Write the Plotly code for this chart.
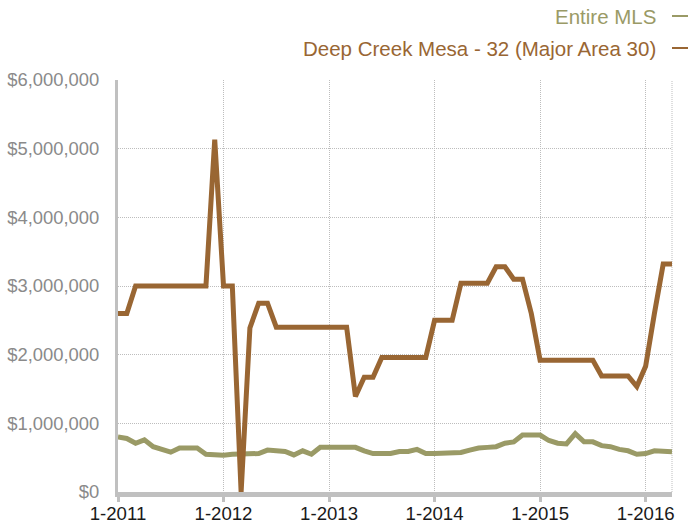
import plotly.graph_objects as go

# Month labels Jan 2011 .. Apr 2016
months = [f"{m}-{y}" for y in range(2011, 2017) for m in range(1, 13)][:64]

deep_creek = [2.60, 2.60, 3.00, 3.00, 3.00, 3.00, 3.00, 3.00, 3.00, 3.00,
              3.00, 5.13, 3.00, 3.00, 0.00, 2.39, 2.75, 2.75, 2.40, 2.40,
              2.40, 2.40, 2.40, 2.40, 2.40, 2.40, 2.40, 1.39, 1.67, 1.67,
              1.96, 1.96, 1.96, 1.96, 1.96, 1.96, 2.50, 2.50, 2.50, 3.04,
              3.04, 3.04, 3.04, 3.28, 3.28, 3.10, 3.10, 2.60, 1.92, 1.92,
              1.92, 1.92, 1.92, 1.92, 1.92, 1.69, 1.69, 1.69, 1.69, 1.535,
              1.83, 2.60, 3.32, 3.32]
deep_creek = [v * 1e6 for v in deep_creek]

entire_mls = [0.80, 0.78, 0.71, 0.76, 0.66, 0.62, 0.58, 0.64, 0.64, 0.64,
              0.55, 0.54, 0.535, 0.55, 0.55, 0.55, 0.56, 0.61, 0.60, 0.59,
              0.54, 0.60, 0.55, 0.65, 0.65, 0.65, 0.66, 0.65, 0.60, 0.56,
              0.56, 0.56, 0.59, 0.59, 0.62, 0.56, 0.56, 0.56, 0.56, 0.575,
              0.61, 0.64, 0.65, 0.66, 0.71, 0.73, 0.83, 0.83, 0.83, 0.75,
              0.71, 0.70, 0.85, 0.73, 0.73, 0.675, 0.66, 0.62, 0.60, 0.55,
              0.56, 0.60, 0.585, 0.585]
entire_mls = [v * 1e6 for v in entire_mls]

x_ticks = ["1-2011", "1-2012", "1-2013", "1-2014", "1-2015", "1-2016"]
y_ticks = [0, 1e6, 2e6, 3e6, 4e6, 5e6, 6e6]
y_tick_text = ["$0", "$1,000,000", "$2,000,000", "$3,000,000",
               "$4,000,000", "$5,000,000", "$6,000,000"]

GREEN = "#9a9a66"
BROWN = "#996633"
FONT = "Liberation Sans, Arial, sans-serif"

# plot area in page pixels
PX0, PX1, PY0, PY1 = 118, 672, 80, 492
PW, PH = PX1 - PX0, PY1 - PY0
FW, FH = 689, 525

fig = go.Figure()
fig.add_trace(go.Scatter(x=months, y=entire_mls, mode="lines", name="Entire MLS",
                         line=dict(color=GREEN, width=5), cliponaxis=False))
fig.add_trace(go.Scatter(x=months, y=deep_creek, mode="lines",
                         name="Deep Creek Mesa - 32 (Major Area 30)",
                         line=dict(color=BROWN, width=5), cliponaxis=False))

fig.update_layout(
    width=FW, height=FH,
    margin=dict(l=PX0, r=FW - PX1, t=PY0, b=FH - PY1, autoexpand=False),
    paper_bgcolor="white", plot_bgcolor="white",
    showlegend=False,
    font=dict(family=FONT, size=18),
)
fig.update_xaxes(
    type="category", range=[0, 63], automargin=False,
    tickvals=x_ticks, ticktext=x_ticks,
    showgrid=True, gridcolor="#bdbdbd", griddash="1px,1px", gridwidth=1,
    showline=True, linecolor="#c0c0c0", linewidth=5,
    ticks="outside", ticklen=5, tickwidth=3, tickcolor="#c0c0c0",
    ticklabelstandoff=-4,
    tickfont=dict(color="#1a1a1a", size=18.6, family=FONT),
    zeroline=False,
)
fig.update_yaxes(
    range=[0, 6e6], automargin=False,
    tickvals=y_ticks, ticktext=y_tick_text,
    showgrid=True, gridcolor="#bdbdbd", griddash="1px,1px", gridwidth=1,
    showline=True, linecolor="#c0c0c0", linewidth=3,
    ticks="", ticklabelstandoff=12,
    tickfont=dict(color="#8a8a8a", size=18.4, family=FONT),
    zeroline=False,
)

# right border dotted
fig.add_shape(type="line", xref="paper", yref="paper", x0=1, x1=1, y0=0, y1=1,
              line=dict(color="#bdbdbd", width=1, dash="1px,1px"), layer="below")

# legend (text on the left, line sample on the right)
legend_items = [("Entire MLS", GREEN, 16), ("Deep Creek Mesa - 32 (Major Area 30)", BROWN, 48)]
for text, col, py in legend_items:
    yy = (PY1 - py) / PH
    fig.add_annotation(x=(658 - PX0) / PW, y=yy, xref="paper", yref="paper",
                       text=text, showarrow=False, xanchor="right", yanchor="middle",
                       font=dict(color=col, size=20.5, family=FONT))
    fig.add_shape(type="line", xref="paper", yref="paper",
                  x0=(672 - PX0) / PW, x1=(688 - PX0) / PW, y0=yy, y1=yy,
                  line=dict(color=col, width=2))

fig.write_html(
    "out.html",
    config={"displayModeBar": False},
    post_script="document.body.style.margin='0';document.body.style.overflow='hidden';",
)
